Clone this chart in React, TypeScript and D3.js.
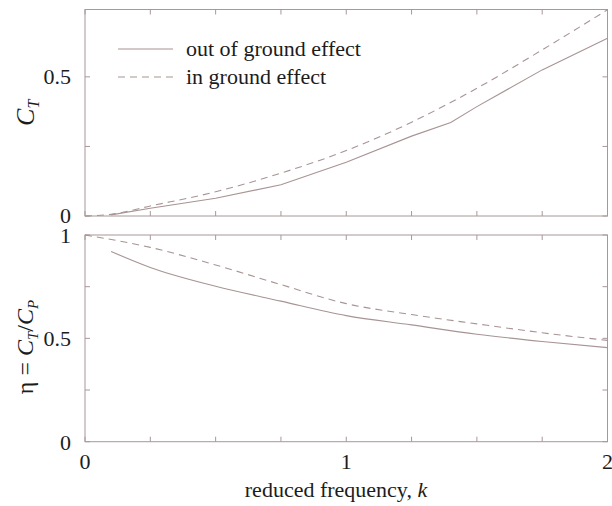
import React from "react";
import * as d3 from "d3";

// ---- data ----
const kOut = [0.1, 0.25, 0.5, 0.75, 1.0, 1.25, 1.4, 1.5, 1.75, 2.0];
const ctOut = [0.004, 0.028, 0.064, 0.112, 0.193, 0.287, 0.336, 0.393, 0.525, 0.639];
const kIn = [0.0, 0.1, 0.25, 0.5, 0.75, 1.0, 1.25, 1.5, 1.75, 2.0];
const ctIn = [0.0, 0.006, 0.036, 0.087, 0.154, 0.235, 0.337, 0.459, 0.597, 0.741];

const kEtaOut = [0.1, 0.25, 0.5, 0.75, 1.0, 1.25, 1.5, 1.75, 2.0];
const etaOut = [0.92, 0.843, 0.752, 0.68, 0.61, 0.565, 0.52, 0.485, 0.455];
const kEtaIn = [0.0, 0.25, 0.5, 0.75, 1.0, 1.25, 1.5, 1.75, 2.0];
const etaIn = [1.0, 0.94, 0.855, 0.76, 0.668, 0.615, 0.57, 0.527, 0.49];

const xTickLabels = [0, 1, 2];
const ctTickLabels = [0, 0.5];
const etaTickLabels = [0, 0.5, 1];
const legendLabels = ["out of ground effect", "in ground effect"];

const W = 612;
const H = 506;
const FONT = '"Liberation Serif"';
const AXIS = "#a89898";
const LINE = "#a89494";
const TEXT = "#1c1c1c";
const FS = 22;

const x = d3.scaleLinear().domain([0, 2]).range([85, 607.5]);
const yTop = d3.scaleLinear().domain([0, 0.742]).range([216, 9.5]);
const yBot = d3.scaleLinear().domain([0, 1]).range([441.7, 235]);

function Panel({ y, minorY }: { y: d3.ScaleLinear<number, number>; minorY: number[] }) {
  const [x0, x1] = x.range();
  const [yb, yt] = y.range();
  const xt = d3.range(0, 2.0001, 0.25);
  const tl = 5;
  return (
    <g stroke={AXIS} strokeWidth={1} fill="none">
      <rect x={x0} y={yt} width={x1 - x0} height={yb - yt} />
      {xt.map((t, i) => (
        <g key={"x" + i}>
          <line x1={x(t)} x2={x(t)} y1={yb} y2={yb - tl} />
          <line x1={x(t)} x2={x(t)} y1={yt} y2={yt + tl} />
        </g>
      ))}
      {minorY.map((t, i) => (
        <g key={"y" + i}>
          <line x1={x0} x2={x0 + tl} y1={y(t)} y2={y(t)} />
          <line x1={x1} x2={x1 - tl} y1={y(t)} y2={y(t)} />
        </g>
      ))}
    </g>
  );
}

function path(ks: number[], vs: number[], y: d3.ScaleLinear<number, number>, smooth: boolean) {
  const pts = ks.map((k, i) => [k, vs[i]] as [number, number]);
  return d3
    .line<[number, number]>()
    .x((d) => x(d[0]))
    .y((d) => y(d[1]))
    .curve(smooth ? d3.curveMonotoneX : d3.curveLinear)(pts) as string;
}

const ts = { fontFamily: FONT };

export default function App() {
  const dash = "7,5";
  return (
    <svg width={W} height={H} style={{ position: "absolute", left: 0, top: 0, background: "#fff" }}>
      <rect width={W} height={H} fill="#fff" />
      <Panel y={yTop} minorY={[0, 0.25, 0.5]} />
      <Panel y={yBot} minorY={[0, 0.25, 0.5, 0.75, 1]} />

      {/* data lines */}
      <path d={path(kOut, ctOut, yTop, false)} fill="none" stroke={LINE} strokeWidth={1.1} />
      <path d={path(kIn, ctIn, yTop, true)} fill="none" stroke={LINE} strokeWidth={1.1} strokeDasharray={dash} />
      <path d={path(kEtaOut, etaOut, yBot, true)} fill="none" stroke={LINE} strokeWidth={1.1} />
      <path d={path(kEtaIn, etaIn, yBot, true)} fill="none" stroke={LINE} strokeWidth={1.1} strokeDasharray={dash} />

      {/* legend */}
      <line x1={118} x2={173} y1={49} y2={49} stroke={LINE} strokeWidth={1.1} />
      <line x1={118} x2={173} y1={77} y2={77} stroke={LINE} strokeWidth={1.1} strokeDasharray={dash} />
      <text x={186} y={56} fontSize={FS} fill={TEXT} style={ts}>{legendLabels[0]}</text>
      <text x={186} y={84} fontSize={FS} fill={TEXT} style={ts}>{legendLabels[1]}</text>

      {/* y tick labels */}
      {ctTickLabels.map((t) => (
        <text key={"ct" + t} x={71} y={yTop(t)} dy="0.32em" textAnchor="end" fontSize={FS} fill={TEXT} style={ts}>
          {t}
        </text>
      ))}
      {etaTickLabels.map((t) => (
        <text key={"eta" + t} x={71} y={yBot(t)} dy="0.36em" textAnchor="end" fontSize={FS} fill={TEXT} style={ts}>
          {t}
        </text>
      ))}
      {/* x tick labels */}
      {xTickLabels.map((t) => (
        <text key={"xt" + t} x={x(t)} y={469} textAnchor="middle" fontSize={FS} fill={TEXT} style={ts}>
          {t}
        </text>
      ))}

      {/* axis titles */}
      <text x={336} y={497} textAnchor="middle" fontSize={FS} fill={TEXT} style={ts}>
        reduced frequency, <tspan fontStyle="italic">k</tspan>
      </text>
      <text
        transform={`translate(34,${(yTop.range()[0] + yTop.range()[1]) / 2}) rotate(-90)`}
        textAnchor="middle"
        fontSize={FS + 4}
        fill={TEXT}
        style={ts}
      >
        <tspan fontStyle="italic">C</tspan>
        <tspan fontStyle="italic" fontSize={16} dy="5">T</tspan>
      </text>
      <text transform={`translate(33,347) rotate(-90)`} textAnchor="middle" fontSize={FS + 2} fill={TEXT} style={ts}>
        <tspan>η = </tspan>
        <tspan fontStyle="italic">C</tspan>
        <tspan fontStyle="italic" fontSize={15} dy="5">T</tspan>
        <tspan dy="-5">/</tspan>
        <tspan fontStyle="italic">C</tspan>
        <tspan fontStyle="italic" fontSize={15} dy="5">P</tspan>
      </text>
    </svg>
  );
}
